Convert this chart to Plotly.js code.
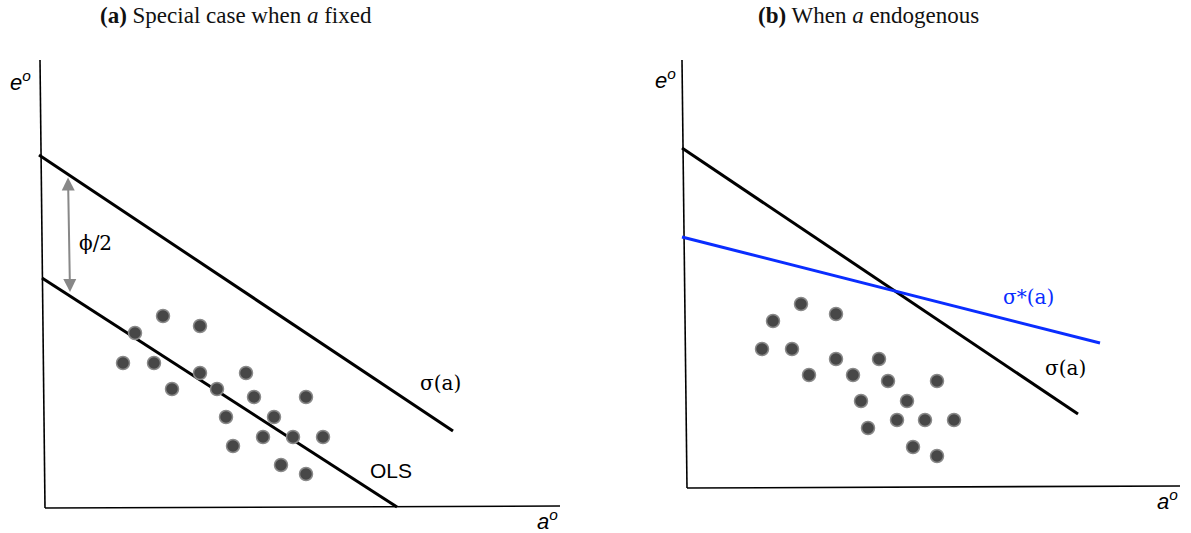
<!DOCTYPE html>
<html>
<head>
<meta charset="utf-8">
<script src="https://cdn.plot.ly/plotly-3.0.1.min.js"></script>
<style>html,body{margin:0;padding:0;background:#fff;}#chart{width:1191px;height:533px;}</style>
</head>
<body>
<div id="chart"></div>
<script>
// Panel (a): coordinates measured from the axis origin
const aAxisY_x = [-5, 0], aAxisY_y = [448, 0];
const aAxisX_x = [0, 515], aAxisX_y = [0, 2];
const aSigma_x = [-6, 408], aSigma_y = [353, 77];
const aOLS_x = [-3, 352], aOLS_y = [230, 1];
const aDots_x = [118, 155, 90, 78, 109, 155, 201, 127, 172, 209, 261, 181, 229, 218, 248, 278, 188, 236, 261];
const aDots_y = [192, 182, 175, 145, 145, 135, 135, 119, 119, 111, 111, 91, 91, 71, 71, 71, 62, 43, 34];
const aArrow = {x0: 23, y0: 332, x1: 25, y1: 216};

// Panel (b)
const bAxisY_x = [-5, 0], bAxisY_y = [428, 0];
const bAxisX_x = [0, 493], bAxisX_y = [0, 2];
const bSigma_x = [-5, 391], bSigma_y = [340, 74];
const bStar_x = [-5, 413], bStar_y = [251, 145];
const bDots_x = [114, 149, 86, 75, 105, 149, 192, 122, 166, 201, 250, 174, 220, 210, 238, 267, 181, 226, 250];
const bDots_y = [184, 174, 167, 139, 139, 129, 129, 113, 113, 107, 107, 87, 87, 68, 68, 68, 60, 41, 32];

const titles = ['<b>(a)</b> Special case when <i>a</i> fixed', '<b>(b)</b> When <i>a</i> endogenous'];

const dotStyle = {size: 13, color: '#474747', line: {color: '#8a8a8a', width: 1.5}};
function line(x, y, xa, ya, color, w) {
  return {x: x, y: y, xaxis: xa, yaxis: ya, mode: 'lines', line: {color: color, width: w}, hoverinfo: 'skip'};
}
const data = [
  line(aAxisY_x, aAxisY_y, 'x', 'y', '#000', 1.6),
  line(aAxisX_x, aAxisX_y, 'x', 'y', '#000', 1.6),
  line(aSigma_x, aSigma_y, 'x', 'y', '#000', 3),
  line(aOLS_x, aOLS_y, 'x', 'y', '#000', 3),
  {x: aDots_x, y: aDots_y, xaxis: 'x', yaxis: 'y', mode: 'markers', marker: dotStyle, hoverinfo: 'skip'},
  line(bAxisY_x, bAxisY_y, 'x2', 'y2', '#000', 1.6),
  line(bAxisX_x, bAxisX_y, 'x2', 'y2', '#000', 1.6),
  line(bSigma_x, bSigma_y, 'x2', 'y2', '#000', 3),
  line(bStar_x, bStar_y, 'x2', 'y2', '#0a2dff', 3),
  {x: bDots_x, y: bDots_y, xaxis: 'x2', yaxis: 'y2', mode: 'markers', marker: dotStyle, hoverinfo: 'skip'}
];

const hidden = {visible: false, showgrid: false, zeroline: false, fixedrange: true};
const sans = 'Liberation Sans, Arial, sans-serif';
const serifM = 'DejaVu Serif, serif';
function lab(text, x, y, xr, yr, font) {
  return {text: text, x: x, y: y, xref: xr, yref: yr, showarrow: false, font: font, xanchor: 'center', yanchor: 'middle'};
}
const titleFont = {family: 'Liberation Serif, serif', size: 23, color: '#111'};
const layout = {
  width: 1191, height: 533,
  margin: {l: 0, r: 0, t: 0, b: 0},
  paper_bgcolor: '#fff', plot_bgcolor: '#fff',
  showlegend: false,
  xaxis: Object.assign({domain: [0, 0.5], range: [-45, 550.5]}, hidden),
  yaxis: Object.assign({domain: [0, 1], range: [-25, 508]}, hidden),
  xaxis2: Object.assign({domain: [0.5, 1], range: [-91.5, 504], anchor: 'y2'}, hidden),
  yaxis2: Object.assign({domain: [0, 1], range: [-45, 488], anchor: 'x2'}, hidden),
  annotations: [
    {text: titles[0], x: 236 / 1191, y: 1 - 16 / 533, xref: 'paper', yref: 'paper', showarrow: false,
     font: titleFont, xanchor: 'center', yanchor: 'middle'},
    {text: titles[1], x: 868 / 1191, y: 1 - 16 / 533, xref: 'paper', yref: 'paper', showarrow: false,
     font: titleFont, xanchor: 'center', yanchor: 'middle'},
    lab('<i>e</i><sup><i>o</i></sup>', -25, 427, 'x', 'y', {family: sans, size: 22, color: '#000'}),
    lab('<i>a</i><sup><i>o</i></sup>', 502, -12, 'x', 'y', {family: sans, size: 22, color: '#000'}),
    lab('σ(a)', 395, 125, 'x', 'y', {family: serifM, size: 20, color: '#000'}),
    lab('OLS', 346, 38, 'x', 'y', {family: sans, size: 21, color: '#000'}),
    lab('ϕ/2', 50, 265, 'x', 'y', {family: serifM, size: 20, color: '#000'}),
    {x: aArrow.x1, y: aArrow.y1, ax: aArrow.x0, ay: aArrow.y0, xref: 'x', yref: 'y', axref: 'x', ayref: 'y',
     text: '', showarrow: true, arrowside: 'end+start', arrowhead: 2, startarrowhead: 2,
     arrowsize: 1.3, startarrowsize: 1.3, arrowwidth: 2, arrowcolor: '#888'},
    lab('<i>e</i><sup><i>o</i></sup>', -22, 409, 'x2', 'y2', {family: sans, size: 22, color: '#000'}),
    lab('<i>a</i><sup><i>o</i></sup>', 480, -12, 'x2', 'y2', {family: sans, size: 22, color: '#000'}),
    lab('σ*(a)', 341, 191, 'x2', 'y2', {family: serifM, size: 20, color: '#0a2dff'}),
    lab('σ(a)', 378, 120, 'x2', 'y2', {family: serifM, size: 20, color: '#000'})
  ]
};
Plotly.newPlot('chart', data, layout, {staticPlot: true, displayModeBar: false});
</script>
</body>
</html>
